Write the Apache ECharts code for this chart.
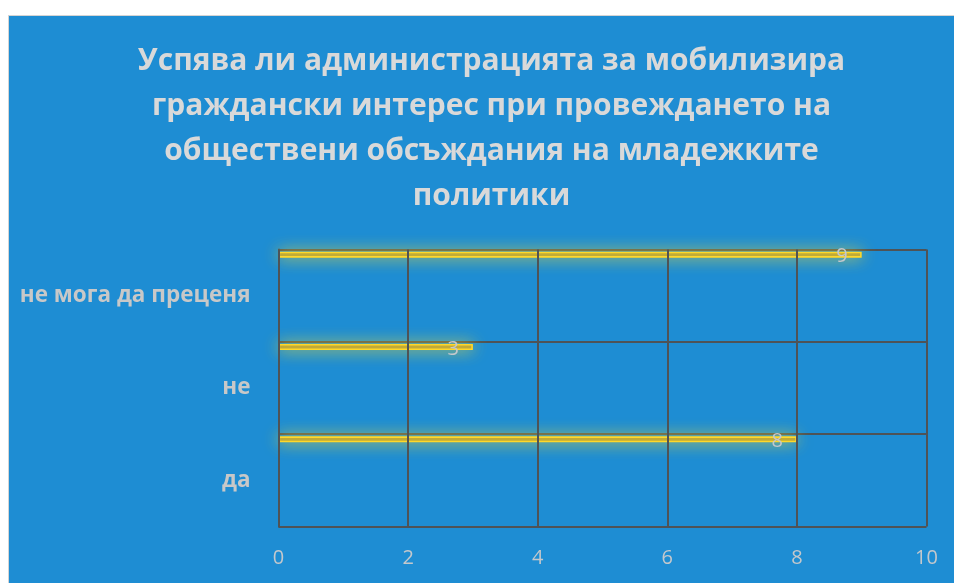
<!DOCTYPE html>
<html>
<head>
<meta charset="utf-8">
<script src="https://cdn.jsdelivr.net/npm/echarts@6/dist/echarts.min.js"></script>
<style>
  html, body { margin: 0; padding: 0; background: #ffffff; width: 954px; height: 583px; overflow: hidden; }
  #panel { position: absolute; left: 8px; top: 15px; width: 946px; height: 568px; background: #1e8dd3; border-left: 1.5px solid #d4d4d4; border-top: 1.5px solid #d4d4d4; }
  #chart { position: absolute; left: 0; top: 0; width: 946px; height: 568px; }
</style>
</head>
<body>
<div id="panel"><div id="chart"></div></div>
<script>
const titleLines = [
  'Успява ли администрацията за мобилизира',
  'граждански интерес при провеждането на',
  'обществени обсъждания на младежките',
  'политики'
];
const categories = ['да', 'не', 'не мога да преценя'];
const values = [8, 3, 9];
const xTicks = [0, 2, 4, 6, 8, 10];

const font = '"Open Sans", "Noto Sans", sans-serif';
// page coords -> chart coords (panel offset 8,15 + border)
const ox = 9.5, oy = 16.5;
const gLeft = 279 - ox, gTop = 250 - oy, gW = 927 - 279, gH = 527 - 250;
const barShift = 41;

const chart = echarts.init(document.getElementById('chart'), null, { renderer: 'canvas' });
chart.setOption({
  backgroundColor: 'transparent',
  animation: false,
  title: {
    text: titleLines.join('\n'),
    left: 487 - ox,
    top: 34 - oy,
    textAlign: 'center',
    textStyle: { fontFamily: font, fontWeight: 'bold', fontSize: 30, lineHeight: 45, color: '#d9d9d9' }
  },
  grid: [
    { left: gLeft, top: gTop, width: gW, height: gH },
    { left: gLeft, top: gTop - barShift, width: gW, height: gH }
  ],
  xAxis: [
    {
      gridIndex: 0, type: 'value', min: 0, max: 10, interval: 2, z: 3,
      axisLine: { show: false }, axisTick: { show: false },
      splitLine: { show: true, lineStyle: { color: '#4f5356', width: 2 } },
      axisLabel: { color: '#c4c8cc', fontFamily: font, fontSize: 20, margin: 22,
        formatter: v => xTicks.includes(v) ? String(v) : '' }
    },
    {
      gridIndex: 1, type: 'value', min: 0, max: 10, interval: 2, show: false
    }
  ],
  yAxis: [
    {
      gridIndex: 0, type: 'category', data: categories, z: 0,
      axisLine: { show: true, lineStyle: { color: '#4f5356', width: 2 } },
      axisTick: { show: false },
      splitLine: { show: true, lineStyle: { color: '#4f5356', width: 2 } },
      axisLabel: { color: '#c8c8c8', fontFamily: font, fontWeight: 'bold', fontSize: 22.5, margin: 28 }
    },
    {
      gridIndex: 1, type: 'category', data: categories, show: false
    }
  ],
  series: [
    {
      type: 'bar', xAxisIndex: 0, yAxisIndex: 0, data: [0, 0, 0], silent: true,
      itemStyle: { opacity: 0 }
    },
    {
      type: 'bar', xAxisIndex: 1, yAxisIndex: 1, data: values, barWidth: 6, z: 2,
      itemStyle: {
        color: '#b9a43a',
        borderColor: '#ffd82a',
        borderWidth: 1.6,
        shadowBlur: 16,
        shadowColor: 'rgba(255, 225, 40, 0.8)'
      },
      label: {
        show: true, position: 'insideRight', distance: 14, offset: [0, 2],
        color: '#c4c8cc', fontFamily: font, fontSize: 20
      }
    }
  ]
});
</script>
</body>
</html>
